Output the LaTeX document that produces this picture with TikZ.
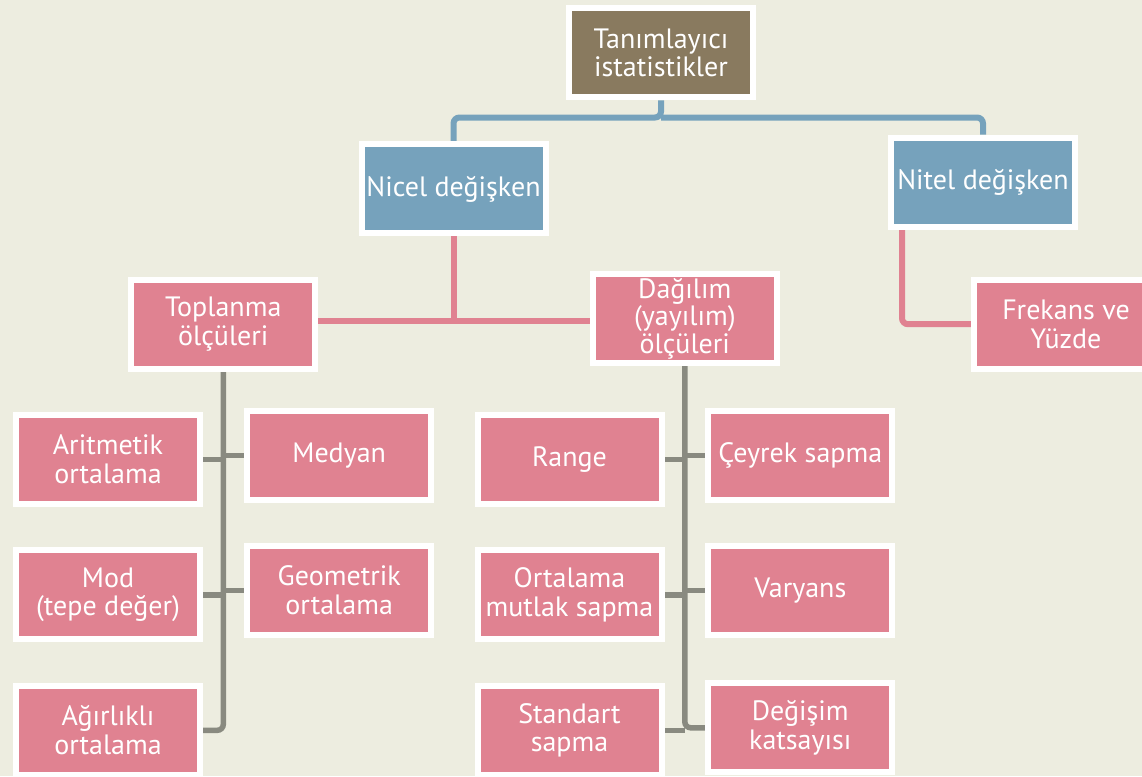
\documentclass[tikz,border=0pt]{standalone}
\usepackage{fontspec}
\setmainfont{PT Sans}
\usetikzlibrary{calc}
\definecolor{paper}{RGB}{237,237,224}
\definecolor{rose}{RGB}{224,130,145}
\definecolor{steel}{RGB}{118,162,188}
\definecolor{taupe}{RGB}{137,122,95}
\definecolor{slate}{RGB}{137,138,128}
\pgfdeclarelayer{links}
\pgfsetlayers{links,main}
\tikzset{
  box/.style={draw=white, line width=6pt, minimum width=184pt, minimum height=89pt,
    inner sep=0pt, align=center, text=white, font=\fontsize{28}{28.7}\selectfont},
  rosebox/.style={box, fill=rose},
  steelbox/.style={box, fill=steel},
  taupebox/.style={box, fill=taupe},
  link/.style={line width=6pt, rounded corners=6pt},
  graylink/.style={line width=5.5pt, rounded corners=6pt, draw=slate},
}
\begin{document}
\begin{tikzpicture}[x=1pt, y=-1pt]
\useasboundingbox (0,0) rectangle (1142,776);
\clip (0,0) rectangle (1142,776);
\begin{pgfonlayer}{links}
  \fill[paper] (0,0) rectangle (1142,776);
\end{pgfonlayer}

% top level
\node[taupebox] (top) at (661,52.8) {Tanımlayıcı\\istatistikler};
\node[steelbox] (nicel) at (453.5,188.9) {Nicel değişken};
\node[steelbox] (nitel) at (983,182) {Nitel değişken};

% measure groups
\node[rosebox] (toplanma) at (223.3,324.2) {Toplanma\\ölçüleri};
\node[rosebox, font=\fontsize{28}{27.5}\selectfont] (dagilim) at (684.8,318.5) {Dağılım\\(yayılım)\\ölçüleri};
\node[rosebox] (frekans) at (1066,324.2) {Frekans ve\\Yüzde};

% central tendency
\node[rosebox] (arit) at (108,459.3) {Aritmetik\\ortalama};
\node[rosebox] (medyan) at (339.2,455.4) {Medyan};
\node[rosebox] (mod) at (108,594.8) {Mod\\(tepe değer)};
\node[rosebox] (geo) at (339.2,590.5) {Geometrik\\ortalama};
\node[rosebox] (agir) at (108,730.3) {Ağırlıklı\\ortalama};

% dispersion
\node[rosebox] (range) at (569.5,459.3) {Range};
\node[rosebox] (ceyrek) at (800.3,455.6) {Çeyrek sapma};
\node[rosebox] (oms) at (569.5,594.8) {Ortalama\\mutlak sapma};
\node[rosebox] (varyans) at (800.3,590.5) {Varyans};
\node[rosebox] (std) at (569.5,730.3) {Standart\\sapma};
\node[rosebox] (degisim) at (800.3,727.8) {Değişim\\katsayısı};

\begin{pgfonlayer}{links}
  % first split
  \coordinate (bl) at (0,117.5);
  \draw[link, steel] (top.south) -- (top.south |- bl) -| (nicel.north);
  \draw[link, steel] (top.south |- bl) -| (nitel.north);
  % quantitative branch
  \coordinate (pl) at (0,321);
  \draw[link, rose] (nicel.south) -- (nicel.south |- pl);
  \draw[link, rose] (toplanma.east |- pl) -- (dagilim.west |- pl);
  % qualitative branch
  \coordinate (nf) at ($(nitel.south west)+(14,0)$);
  \draw[link, rose] (nf) |- (frekans.west);
  % central tendency list
  \draw[graylink] (toplanma.south) |- (agir.east);
  \draw[graylink] (arit.east) -- (arit.east -| toplanma.south);
  \draw[graylink] (medyan.west) -- (medyan.west -| toplanma.south);
  \draw[graylink] (mod.east) -- (mod.east -| toplanma.south);
  \draw[graylink] (geo.west) -- (geo.west -| toplanma.south);
  % dispersion list
  \draw[graylink] (dagilim.south) |- (degisim.west);
  \draw[graylink] (range.east) -- (range.east -| dagilim.south);
  \draw[graylink] (ceyrek.west) -- (ceyrek.west -| dagilim.south);
  \draw[graylink] (oms.east) -- (oms.east -| dagilim.south);
  \draw[graylink] (varyans.west) -- (varyans.west -| dagilim.south);
  \draw[graylink] (std.east) -- (std.east -| dagilim.south);
\end{pgfonlayer}
\end{tikzpicture}
\end{document}
